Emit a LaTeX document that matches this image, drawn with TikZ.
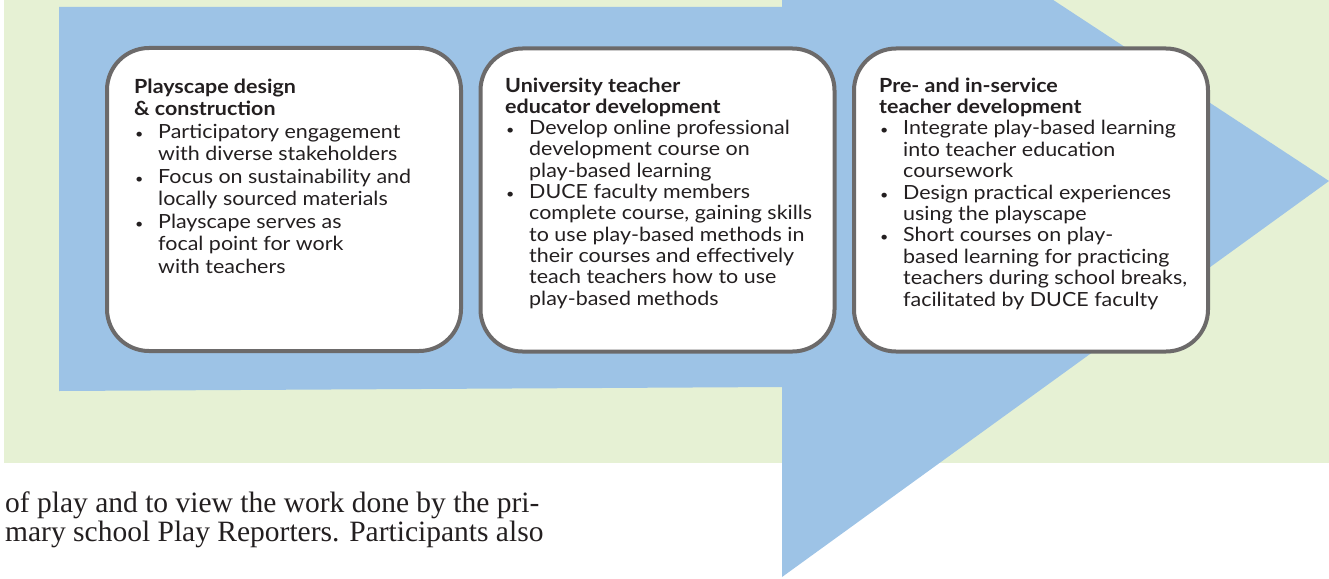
\documentclass[tikz,border=0pt]{standalone}
\usepackage{fontspec}
\setmainfont{Lato}[FakeStretch=1.1]
\newfontfamily\bodyserif{Liberation Serif}
\definecolor{bggreen}{RGB}{230,241,212}
\definecolor{arrowblue}{RGB}{157,195,230}
\definecolor{cardline}{RGB}{108,106,106}
\definecolor{inktext}{RGB}{35,31,32}
\newcommand\bul{\makebox[24pt][l]{\hspace{1pt}{\fontsize{13}{13}\selectfont\textbullet}}}
\newcommand\cnt{\makebox[24pt][l]{}}
\newcommand\cardlines[2]{\fontsize{19.5}{#1}\selectfont\begin{tabular}[t]{@{}l@{}}#2\end{tabular}}
\tikzset{
  card/.style={draw=cardline, line width=4pt, fill=white, rounded corners=42pt,
    minimum width=354pt, minimum height=303pt, inner sep=0pt},
  cardtext/.style={anchor=base west, inner sep=0pt, text=inktext},
  bodytext/.style={anchor=base west, align=left, inner sep=0pt, text=inktext,
    font=\bodyserif\fontsize{29.5}{29}\selectfont}
}
\begin{document}
\begin{tikzpicture}[x=1pt,y=-1pt]
\useasboundingbox (0,0) rectangle (1329,578);
\begin{scope}
\clip (0,0) rectangle (1329,578);
\fill[bggreen] (4,0) rectangle (1329,463);
\fill[arrowblue] (59,7) -- (782,7) -- (782,-178) -- (1329,181) -- (782,577)
  -- (782,387) -- (59,391) -- cycle;
\end{scope}

\node[card] (c1) at (284,199.5) {};
\node[card] (c2) at (657.5,200) {};
\node[card] (c3) at (1031,200) {};

\node[cardtext] (t1) at (134,93) {\cardlines{22.5}{\textbf{Playscape design}\\
\textbf{\& construction}\\
\bul Participatory engagement\\
\cnt with diverse stakeholders\\
\bul Focus on sustainability and\\
\cnt locally sourced materials\\
\bul Playscape serves as\\
\cnt focal point for work\\
\cnt with teachers}};

\node[cardtext] (t2) at (505,92) {\cardlines{21.3}{\textbf{University teacher}\\
\textbf{educator development}\\
\bul Develop online professional\\
\cnt development course on\\
\cnt play-based learning\\
\bul DUCE faculty members\\
\cnt complete course, gaining skills\\
\cnt to use play-based methods in\\
\cnt their courses and effectively\\
\cnt teach teachers how to use\\
\cnt play-based methods}};

\node[cardtext] (t3) at (879,92) {\cardlines{21.4}{\textbf{Pre- and in-service}\\
\textbf{teacher development}\\
\bul Integrate play-based learning\\
\cnt into teacher education\\
\cnt coursework\\
\bul Design practical experiences\\
\cnt using the playscape\\
\bul Short courses on play-\\
\cnt based learning for practicing\\
\cnt teachers during school breaks,\\
\cnt facilitated by DUCE faculty}};

\node[bodytext] (p1) at (5,512) {of play and to view the work done by the pri-};
\node[bodytext] (p2) at (5,541) {mary school Play Reporters. Participants also};
\end{tikzpicture}
\end{document}
